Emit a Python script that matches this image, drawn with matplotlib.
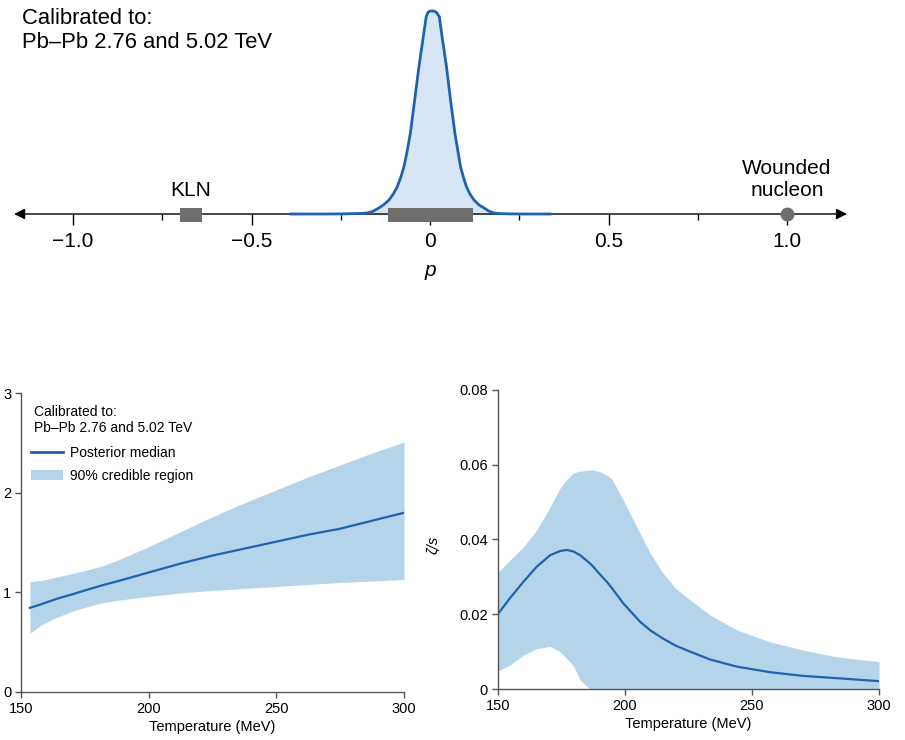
import matplotlib
matplotlib.use('agg')
import matplotlib.pyplot as plt
from matplotlib.patches import Rectangle, Patch
from matplotlib.lines import Line2D

plt.rcParams['font.family'] = ['Liberation Sans', 'DejaVu Sans']

# --- top panel: posterior of p (peak normalised to 1) ---
p_vals = [-0.39, -0.30, -0.25, -0.21, -0.19, -0.176, -0.16, -0.143, -0.128, -0.115,
          -0.103, -0.092, -0.082, -0.073, -0.064, -0.055, -0.043, -0.031, -0.0174,
          -0.0107, -0.006, 0.0, 0.006, 0.012, 0.018, 0.026, 0.0322, 0.046, 0.0574,
          0.0695, 0.0854, 0.094, 0.102, 0.112, 0.123, 0.137, 0.151, 0.165, 0.179,
          0.195, 0.22, 0.26, 0.336]
p_dens = [0.0, 0.0, 0.0005, 0.002, 0.003, 0.005, 0.013, 0.030, 0.048, 0.069,
          0.098, 0.134, 0.180, 0.233, 0.310, 0.399, 0.562, 0.726, 0.892,
          0.972, 0.993, 0.999, 1.0, 0.999, 0.993, 0.972, 0.892, 0.726, 0.562,
          0.399, 0.233, 0.178, 0.134, 0.098, 0.069, 0.045, 0.030, 0.014, 0.005,
          0.002, 0.0008, 0.0, 0.0]
p_range_90 = (-0.117, 0.119)
kln_range = (-0.699, -0.640)
wounded_p = 1.0

# --- bottom left: eta/s ---
T_eta = [153.5, 157.8, 160, 164.5, 170, 175, 181.6, 187.5, 200, 212.5, 225,
         237.5, 250, 262.5, 275, 287.5, 300]
eta_med = [0.845, 0.88, 0.90, 0.94, 0.98, 1.02, 1.07, 1.11, 1.20, 1.29, 1.37,
           1.44, 1.51, 1.58, 1.64, 1.72, 1.80]
eta_hi = [1.106, 1.12, 1.13, 1.157, 1.19, 1.22, 1.265, 1.32, 1.46, 1.61, 1.76,
          1.90, 2.03, 2.16, 2.28, 2.40, 2.51]
eta_lo = [0.59, 0.67, 0.70, 0.755, 0.81, 0.85, 0.896, 0.92, 0.96, 0.995, 1.02,
          1.04, 1.06, 1.08, 1.10, 1.115, 1.13]

# --- bottom right: zeta/s ---
T_z = [150, 154.8, 160.1, 165.3, 170.6, 174.5, 177.1, 179.8, 182.4, 186.3, 187.6,
       190.3, 192.9, 194.8, 199.4, 206, 210, 215, 220, 225.7, 233.5, 244, 257.1,
       270.2, 283.4, 300]
zeta_med = [0.0200, 0.0243, 0.0287, 0.0327, 0.0358, 0.0369, 0.0372, 0.0368,
            0.0358, 0.0336, 0.0327, 0.0306, 0.0287, 0.0271, 0.0229, 0.0180,
            0.0157, 0.0135, 0.0116, 0.0100, 0.0079, 0.0060, 0.0045, 0.0035,
            0.0029, 0.0021]
zeta_hi = [0.0311, 0.0345, 0.0380, 0.0425, 0.0487, 0.0537, 0.0560, 0.0578,
           0.0583, 0.0586, 0.0586, 0.0581, 0.0572, 0.0563, 0.0505, 0.0416,
           0.0363, 0.0310, 0.0269, 0.0238, 0.0198, 0.0158, 0.0126, 0.0104,
           0.0086, 0.0073]
zeta_lo = [0.0048, 0.0064, 0.0091, 0.0108, 0.0114, 0.0100, 0.0082, 0.0062,
           0.0024, 0.0, 0.0, 0.0, 0.0, 0.0, 0.0, 0.0, 0.0, 0.0, 0.0, 0.0, 0.0,
           0.0, 0.0, 0.0, 0.0, 0.0]

line_c = '#1f62ad'
band_c = '#b3d4e9'
peak_fill = '#d6e6f4'
grey = '#6e6e6e'
spine_c = '#555555'

fig = plt.figure(figsize=(9.05, 7.4), dpi=100)

# ---------------- top ----------------
ax = fig.add_axes([0.00177, 0.6757, 0.9468, 0.3243])
ax.set_xlim(-1.2, 1.2)
ax.set_ylim(-0.128, 1.054)
for s in ['left', 'right', 'top']:
    ax.spines[s].set_visible(False)
ax.spines['bottom'].set_position(('data', 0))
ax.spines['bottom'].set_color('none')
ax.set_yticks([])
ax.set_xticks([-1.0, -0.5, 0, 0.5, 1.0])
ax.set_xticklabels(['\u22121.0', '\u22120.5', '0', '0.5', '1.0'], fontsize=15)
ax.set_xticks([-0.75, -0.25, 0.25, 0.75], minor=True)
ax.tick_params(axis='x', which='major', direction='out', length=8, width=1, pad=5, color='k')
ax.tick_params(axis='x', which='minor', direction='out', length=4.5, width=1, color='k')
ax.annotate('', xy=(1.168, 0), xytext=(-1.165, 0),
            arrowprops=dict(arrowstyle='<|-|>', color='k', lw=1.0,
                            mutation_scale=16, shrinkA=0, shrinkB=0))
ax.fill_between(p_vals, 0, p_dens, color=peak_fill, zorder=2)
ax.plot(p_vals, p_dens, color=line_c, lw=2.0, zorder=3, solid_joinstyle='round')
ax.add_patch(Rectangle((p_range_90[0], -0.038), p_range_90[1] - p_range_90[0], 0.066,
                       color=grey, zorder=4, lw=0))
ax.add_patch(Rectangle((kln_range[0], -0.038), kln_range[1] - kln_range[0], 0.066,
                       color=grey, zorder=4, lw=0))
ax.plot([wounded_p], [0], 'o', ms=9, color=grey, zorder=4)
ax.text(-0.67, 0.118, 'KLN', ha='center', va='center', fontsize=15)
ax.text(1.0, 0.172, 'Wounded\nnucleon', ha='center', va='center', fontsize=15, linespacing=1.2)
ax.text(0.0, -0.28, 'p', ha='center', va='center', fontsize=15, style='italic')
fig.text(22 / 905, 1 - 8 / 740, 'Calibrated to:\nPb\u2013Pb 2.76 and 5.02 TeV',
         ha='left', va='top', fontsize=15.8, linespacing=1.2)

# ---------------- bottom left ----------------
ax1 = fig.add_axes([0.0232, 0.0649, 0.4232, 0.4036])
ax1.fill_between(T_eta, eta_lo, eta_hi, color=band_c, lw=0)
ax1.plot(T_eta, eta_med, color=line_c, lw=1.6)
ax1.set_xlim(150, 300)
ax1.set_ylim(0, 3)
ax1.set_xticks([150, 200, 250, 300])
ax1.set_yticks([0, 1, 2, 3])
ax1.set_xlabel('Temperature (MeV)', fontsize=10.5, labelpad=3)

# ---------------- bottom right ----------------
ax2 = fig.add_axes([0.55, 0.0689, 0.4213, 0.4041])
ax2.fill_between(T_z, zeta_lo, zeta_hi, color=band_c, lw=0)
ax2.plot(T_z, zeta_med, color=line_c, lw=1.6)
ax2.set_xlim(150, 300)
ax2.set_ylim(0, 0.08)
ax2.set_xticks([150, 200, 250, 300])
ax2.set_yticks([0, 0.02, 0.04, 0.06, 0.08])
ax2.set_yticklabels(['0', '0.02', '0.04', '0.06', '0.08'])
ax2.set_xlabel('Temperature (MeV)', fontsize=10.5, labelpad=3)
ax2.set_ylabel('\u03b6/s', fontsize=10.5, style='italic')
ax2.yaxis.set_label_coords(-0.151, 0.482)

for a in (ax1, ax2):
    for s in ['right', 'top']:
        a.spines[s].set_visible(False)
    for s in ['left', 'bottom']:
        a.spines[s].set_color(spine_c)
        a.spines[s].set_linewidth(1.0)
    a.tick_params(direction='out', length=4, width=1, color=spine_c, labelsize=10.5, pad=3)

ax1.text(0.034, 0.962, 'Calibrated to:\nPb\u2013Pb 2.76 and 5.02 TeV', transform=ax1.transAxes,
         ha='left', va='top', fontsize=10, linespacing=1.2)
handles = [Line2D([], [], color=line_c, lw=2.0), Patch(color=band_c, lw=0)]
ax1.legend(handles, ['Posterior median', '90% credible region'], loc='upper left',
           bbox_to_anchor=(0.0, 0.855), frameon=False, fontsize=10,
           handlelength=2.3, handletextpad=0.5, labelspacing=0.6, borderaxespad=0.3)

fig.savefig('out.png', dpi=100)
